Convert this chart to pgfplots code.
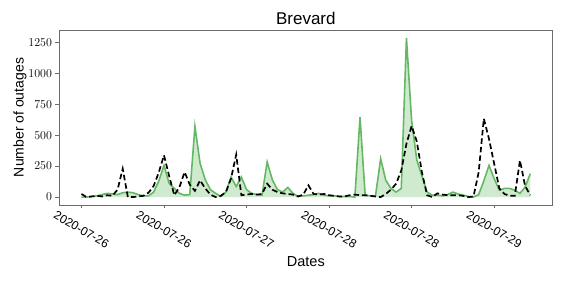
\documentclass[border=0pt]{standalone}
\usepackage{pgfplots}
\pgfplotsset{compat=1.18}
\usepackage{pgfplotstable}
\usepackage{fontspec}
\setmainfont{Liberation Sans}
\definecolor{lgreen}{RGB}{100,184,100}
\pgfplotstableread{
i g b
0 0 25
1 0 0
2 5 5
3 10 10
4 20 5
5 30 15
6 25 10
7 20 60
8 35 229
9 40 0
10 35 0
11 20 5
12 10 10
13 10 35
14 40 90
15 130 200
16 256 337
17 110 170
18 70 15
19 30 80
20 15 202
21 20 100
22 571 50
23 272 135
24 140 70
25 60 20
26 30 0
27 5 10
28 40 40
29 162 150
30 85 342
31 162 15
32 60 20
33 30 25
34 20 20
35 15 25
36 283 108
37 140 60
38 60 40
39 40 30
40 78 25
41 30 20
42 5 5
43 10 20
44 15 95
45 20 25
46 30 20
47 15 25
48 10 15
49 10 10
50 5 5
51 5 5
52 5 15
53 0 20
54 646 15
55 15 15
56 10 10
57 10 5
58 310 0
59 135 25
60 70 60
61 40 108
62 70 215
63 1285 430
64 620 574
65 300 450
66 170 200
67 40 15
68 15 0
69 15 30
70 10 20
71 20 15
72 40 15
73 25 15
74 15 10
75 5 0
76 0 5
77 20 200
78 130 633
79 256 470
80 150 270
81 55 70
82 70 25
83 70 10
84 55 10
85 30 296
86 80 90
87 189 15
}\datatable
\begin{document}
\begin{tikzpicture}
\begin{axis}[
  at={(0,0)}, anchor=south west,
  scale only axis, width=493.7pt, height=175pt,
  xmin=-4.35, xmax=91.35, ymin=-64, ymax=1349,
  axis line style={draw=gray!85!black, line width=0.9pt},
  tick style={draw=gray!85!black, line width=0.8pt},
  tick align=outside, major tick length=3.5pt,
  xtick pos=bottom, ytick pos=left,
  xtick={0,16,32,48,64,80},
  xticklabels={2020-07-26,2020-07-26,2020-07-27,2020-07-28,2020-07-28,2020-07-29},
  xticklabel style={font=\fontsize{12}{14}\selectfont, yshift=-21pt, rotate=-30, anchor=center},
  ytick={0,250,500,750,1000,1250},
  yticklabel style={font=\fontsize{12}{14}\selectfont, /pgf/number format/1000 sep={}},
  title={Brevard},
  title style={font=\fontsize{17}{20}\selectfont, yshift=-4pt},
  xlabel={Dates},
  xlabel style={font=\fontsize{14.5}{17}\selectfont, at={(axis description cs:0.5,0)}, anchor=center, yshift=-57pt},
  ylabel={Number of outages},
  ylabel style={font=\fontsize{14}{17}\selectfont},
  ylabel shift=-5pt,
  clip=true,
]
\addplot[draw=none, fill=lgreen, fill opacity=0.3] table[x=i, y=g] {\datatable} \closedcycle;
\addplot[lgreen, line width=1.6pt] table[x=i, y=g] {\datatable};
\addplot[black, line width=1.7pt, dash pattern=on 5.5pt off 3pt] table[x=i, y=b] {\datatable};
\end{axis}
\path (current axis.south west) ++(-59pt,-78pt) rectangle ++(566pt,283pt);
\end{tikzpicture}
\end{document}
